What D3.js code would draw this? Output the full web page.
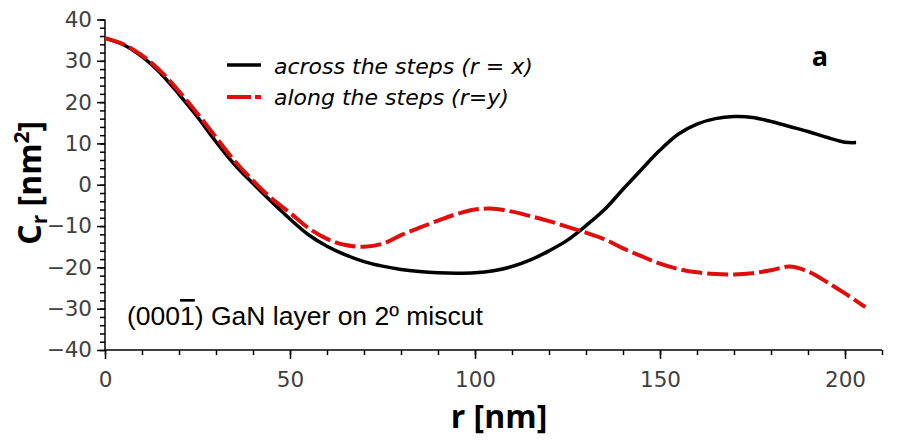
<!DOCTYPE html>
<html>
<head>
<meta charset="utf-8">
<script src="https://cdn.jsdelivr.net/npm/d3@7"></script>
<style>
  body { margin: 0; background: #fff; }
  .tick text { font-family: "DejaVu Sans", sans-serif; font-size: 21.5px; fill: #404040; }
  .domain, .tick line { stroke: #000; stroke-width: 1.5; }
</style>
</head>
<body>
<div id="chart"></div>
<script>
// r [nm] values and the two correlation curves
let rAcross = [0, 5, 10, 15, 20, 25, 30, 35, 40, 45, 50, 55, 60, 65, 70, 75, 80, 85, 90, 95, 100,
  105, 110, 115, 120, 125, 130, 135, 140, 145, 150, 155, 160, 165, 170, 175, 180, 185, 190, 195, 200, 203];
let cAcross = [35.5, 33.9, 31.0, 27.0, 21.9, 16.4, 10.4, 4.9, 0.3, -4.1, -8.3, -12.1, -14.9, -17.0, -18.6, -19.7, -20.5, -21.0, -21.3, -21.4, -21.3,
  -20.8, -19.8, -18.2, -16.0, -13.4, -9.9, -6.0, -1.1, 3.7, 8.4, 12.3, 14.7, 16.0, 16.5, 16.3, 15.3, 14.1, 12.9, 11.5, 10.3, 10.2];

let rAlong = [0, 5, 10, 15, 20, 25, 30, 35, 40, 45, 50, 55, 60, 65, 70, 75, 80, 85, 90, 95, 100,
  105, 110, 115, 120, 125, 130, 135, 140, 145, 150, 155, 160, 165, 170, 175, 180, 185, 190, 195, 200, 205.5];
let cAlong = [35.5, 34.0, 31.3, 27.5, 22.6, 17.2, 11.5, 5.8, 1.0, -3.3, -6.8, -10.5, -13.1, -14.6, -15.0, -14.3, -12.2, -10.4, -8.7, -7.1, -6.0,
  -5.8, -6.5, -7.6, -8.8, -10.2, -11.6, -13.2, -15.4, -17.3, -19.1, -20.4, -21.2, -21.6, -21.7, -21.4, -20.7, -19.8, -21.0, -23.5, -26.3, -29.6];

let xTicks = [0, 50, 100, 150, 200];
let yTicks = [-40, -30, -20, -10, 0, 10, 20, 30, 40];
let legendLabels = ["across the steps (r = x)", "along the steps (r=y)"];

let svgWidth = 905;
let svgHeight = 446;

let svg = d3.select("#chart")
  .append("svg")
  .attr("width", svgWidth)
  .attr("height", svgHeight);

let x = d3.scaleLinear().domain([0, 210]).range([105, 882]);
let y = d3.scaleLinear().domain([-40, 40]).range([350, 19.5]);

// minor ticks first, no labels
svg.append("g")
  .attr("transform", `translate(0, ${y(-40)})`)
  .call(d3.axisBottom(x).tickValues(d3.range(0, 211, 10)).tickSize(5).tickFormat(""))
  .select(".domain").remove();
svg.append("g")
  .attr("transform", `translate(${x(0)}, 0)`)
  .call(d3.axisLeft(y).tickValues(d3.range(-40, 41, 2)).tickSize(5).tickFormat(""))
  .select(".domain").remove();

// major ticks
svg.append("g")
  .attr("transform", `translate(0, ${y(-40)})`)
  .call(d3.axisBottom(x).tickValues(xTicks).tickSizeInner(9).tickSizeOuter(0).tickPadding(13))
  .select(".domain").attr("d", `M${x(0)},0H${x(210)}`);

svg.append("g")
  .attr("transform", `translate(${x(0)}, 0)`)
  .call(d3.axisLeft(y).tickValues(yTicks).tickSizeInner(8).tickSizeOuter(0).tickPadding(5)
    .tickFormat(d => d < 0 ? "\u2212" + Math.abs(d) : d))
  .select(".domain").attr("d", `M0,${y(-40)}V${y(40)}`);

let line = d3.line()
  .x(d => x(d[0]))
  .y(d => y(d[1]))
  .curve(d3.curveCatmullRom.alpha(0.5));

svg.append("path")
  .datum(d3.zip(rAcross, cAcross))
  .attr("d", line)
  .attr("fill", "none")
  .attr("stroke", "#000")
  .attr("stroke-width", 3.5);

svg.append("path")
  .datum(d3.zip(rAlong, cAlong))
  .attr("d", line)
  .attr("fill", "none")
  .attr("stroke", "#e00d0d")
  .attr("stroke-width", 4)
  .attr("stroke-dasharray", "21,5");

// legend
let legend = svg.append("g");
legend.append("line")
  .attr("x1", 227).attr("x2", 261).attr("y1", 65).attr("y2", 65)
  .attr("stroke", "#000").attr("stroke-width", 3.5);
legend.append("line")
  .attr("x1", 227).attr("x2", 261).attr("y1", 97).attr("y2", 97)
  .attr("stroke", "#e00d0d").attr("stroke-width", 4).attr("stroke-dasharray", "24,4");
legend.selectAll("text.leg")
  .data(legendLabels)
  .enter()
  .append("text")
  .attr("class", "leg")
  .attr("x", 274)
  .attr("y", (d, i) => 74 + i * 31)
  .attr("font-family", "DejaVu Sans, sans-serif")
  .attr("font-style", "italic")
  .attr("font-size", 22)
  .attr("fill", "#000")
  .text(d => d);

// panel letter
svg.append("text")
  .attr("x", 820)
  .attr("y", 66)
  .attr("text-anchor", "middle")
  .attr("font-family", "Open Sans, sans-serif")
  .attr("font-weight", "bold")
  .attr("font-size", 27)
  .text("a");

// annotation
let note = svg.append("text")
  .attr("x", 127)
  .attr("y", 325)
  .attr("font-family", "Liberation Sans, Arial, sans-serif")
  .attr("font-size", 26.5)
  .attr("fill", "#000");
note.append("tspan").text("(000");
note.append("tspan").style("text-decoration", "overline").text("1");
note.append("tspan").text(") GaN layer on 2\u00ba miscut");

// axis labels
svg.append("text")
  .attr("x", 499)
  .attr("y", 428)
  .attr("text-anchor", "middle")
  .attr("font-family", "Open Sans, sans-serif")
  .attr("font-weight", "bold")
  .attr("font-size", 32)
  .text("r [nm]");

let yLabel = svg.append("text")
  .attr("transform", `translate(41, ${y(0) - 2}) rotate(-90)`)
  .attr("text-anchor", "middle")
  .attr("font-family", "Open Sans, sans-serif")
  .attr("font-weight", "bold")
  .attr("font-size", 32);
yLabel.append("tspan").text("C");
yLabel.append("tspan").attr("font-size", 21).attr("dy", 6).text("r");
yLabel.append("tspan").attr("dy", -6).text(" [nm");
yLabel.append("tspan").attr("font-size", 21).attr("dy", -12).text("2");
yLabel.append("tspan").attr("dy", 12).text("]");
</script>
</body>
</html>
